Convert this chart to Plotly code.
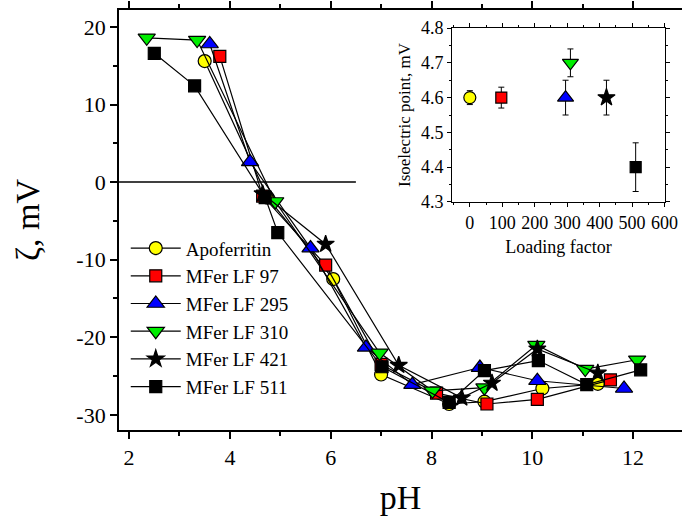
import plotly.graph_objects as go

# Zeta potential vs pH for apoferritin and magnetoferritin samples
ph_apo = [3.5, 4.75, 6.05, 7.0, 8.35, 9.05, 10.2, 11.3]
zeta_apo = [15.6, -2.0, -12.5, -24.8, -28.6, -28.3, -26.6, -26.0]

ph_97 = [3.8, 4.65, 5.9, 7.0, 8.1, 9.1, 10.1, 11.55]
zeta_97 = [16.2, -1.8, -10.7, -23.5, -27.2, -28.6, -28.0, -25.5]

ph_295 = [3.6, 4.4, 5.6, 6.7, 7.62, 8.96, 10.1, 11.82]
zeta_295 = [17.8, 2.6, -8.5, -21.3, -26.1, -23.9, -25.6, -26.6]

ph_310 = [2.35, 3.35, 4.9, 6.97, 8.02, 9.05, 10.08, 11.05, 12.08]
zeta_310 = [18.6, 18.3, -2.5, -22.0, -26.9, -26.5, -21.0, -24.1, -22.9]

ph_421 = [4.65, 5.9, 7.35, 8.6, 9.2, 10.1, 11.3]
zeta_421 = [-1.5, -8.0, -23.6, -27.8, -25.9, -21.5, -24.6]

ph_511 = [2.5, 3.3, 4.7, 4.95, 7.02, 8.35, 9.05, 10.12, 11.08, 12.15]
zeta_511 = [16.6, 12.4, -2.0, -6.5, -23.8, -28.4, -24.3, -23.0, -26.1, -24.2]

zeta_ticks = [-30, -20, -10, 0, 10, 20]
zeta_labels = ["-30", "-20", "-10", "0", "10", "20"]

# Isoelectric point vs loading factor (inset)
loading = [0, 97, 295, 310, 421, 511]
iep = [4.6, 4.6, 4.6, 4.7, 4.6, 4.4]
iep_err = [0.02, 0.03, 0.05, 0.04, 0.05, 0.07]

names = ["Apoferritin", "MFer LF 97", "MFer LF 295", "MFer LF 310", "MFer LF 421", "MFer LF 511"]
ph_sets = [ph_apo, ph_97, ph_295, ph_310, ph_421, ph_511]
zeta_sets = [zeta_apo, zeta_97, zeta_295, zeta_310, zeta_421, zeta_511]
colors = ["#ffff00", "#ff0000", "#0000ff", "#00ee00", "#000000", "#000000"]
symbols = ["circle", "square", "triangle-up", "triangle-down", "star", "square"]
sizes = [13, 12, 15, 15, 13, 12]
inset_sizes = [12, 11, 14, 14, 13, 11]

FONT = "Liberation Serif, Times New Roman, Times, serif"

fig = go.Figure()

for name, xs, ys, c, s, sz in zip(names, ph_sets, zeta_sets, colors, symbols, sizes):
    fig.add_trace(go.Scatter(
        x=xs, y=ys, name=name, mode="lines+markers",
        line=dict(color="black", width=1.2),
        marker=dict(symbol=s, size=sz, color=c, line=dict(color="black", width=1.2)),
    ))

for i in range(len(loading)):
    fig.add_trace(go.Scatter(
        x=[loading[i]], y=[iep[i]], mode="markers", showlegend=False,
        xaxis="x2", yaxis="y2",
        error_y=dict(type="data", array=[iep_err[i]], color="black", thickness=1, width=3),
        marker=dict(symbol=symbols[i], size=inset_sizes[i], color=colors[i],
                    line=dict(color="black", width=1.2)),
    ))

# zero reference line
fig.add_shape(type="line", xref="x", yref="y", x0=1.8, x1=6.5, y0=0, y1=0,
              line=dict(color="black", width=1.5))

main_axis = dict(showline=True, linecolor="black", linewidth=1.8, ticks="outside",
                 ticklen=7, tickwidth=1.5, tickcolor="black", showgrid=False,
                 zeroline=False, tickfont=dict(family=FONT, size=22, color="black"))

inset_axis = dict(showline=True, linecolor="black", linewidth=1.2, ticks="outside",
                  ticklen=4, tickwidth=1, tickcolor="black", showgrid=False,
                  zeroline=False, mirror="allticks",
                  tickfont=dict(family=FONT, size=18, color="black"))

fig.update_layout(
    width=695, height=528,
    margin=dict(l=119, r=0, t=8, b=98),
    paper_bgcolor="white", plot_bgcolor="white",
    font=dict(family=FONT, color="black"),
    showlegend=True,
    legend=dict(x=0.012, y=0.478, xanchor="left", yanchor="top",
                bgcolor="rgba(0,0,0,0)", font=dict(family=FONT, size=19, color="black"),
                tracegroupgap=0, itemwidth=50),
    xaxis=dict(main_axis, range=[1.8, 12.97], tickmode="linear", tick0=2, dtick=2,
               mirror="allticks",
               minor=dict(dtick=1, ticks="outside", ticklen=4, tickcolor="black", tickwidth=1.5),
               title=dict(text="pH", font=dict(family=FONT, size=34, color="black"), standoff=16)),
    yaxis=dict(main_axis, range=[-31.95, 22.18], tickmode="array",
               tickvals=zeta_ticks, ticktext=zeta_labels,
               minor=dict(dtick=5, ticks="outside", ticklen=4, tickcolor="black", tickwidth=1.5),
               title=dict(text="ζ, mV", font=dict(family=FONT, size=34, color="black"), standoff=26)),
    xaxis2=dict(inset_axis, domain=[0.592, 0.969], anchor="y2", range=[-54, 600],
                tickmode="linear", tick0=0, dtick=100,
                minor=dict(dtick=50, ticks="outside", ticklen=2, tickcolor="black"),
                title=dict(text="Loading factor", font=dict(family=FONT, size=18, color="black"),
                           standoff=8)),
    yaxis2=dict(inset_axis, domain=[0.543, 0.957], anchor="x2", range=[4.3, 4.8],
                tickmode="linear", tick0=4.3, dtick=0.1, tickformat=".1f",
                minor=dict(dtick=0.05, ticks="outside", ticklen=2, tickcolor="black"),
                title=dict(text="Isoelectric point, mV",
                           font=dict(family=FONT, size=17, color="black"), standoff=6)),
)

fig.write_html("out.html")
